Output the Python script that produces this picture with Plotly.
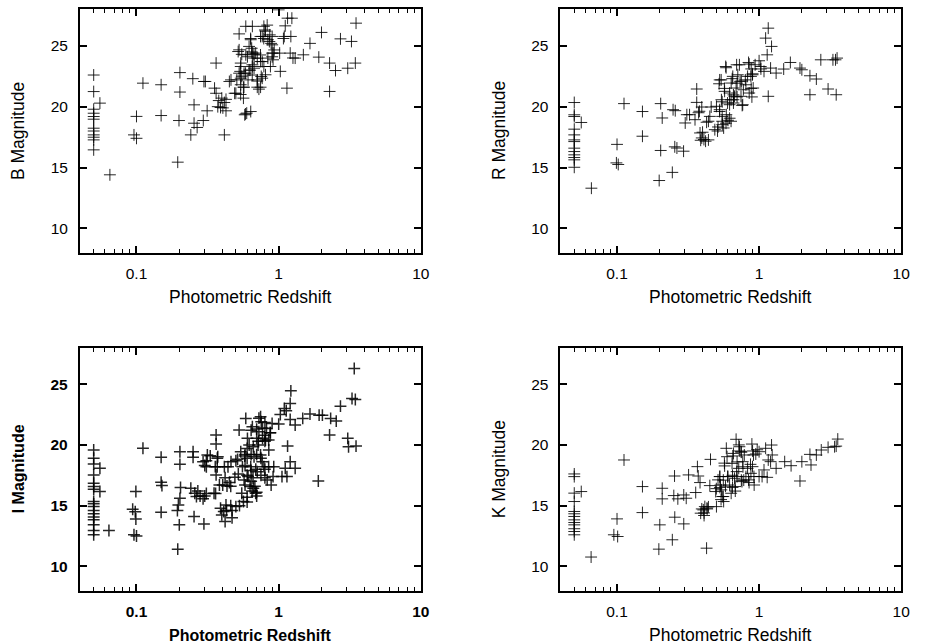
import plotly.graph_objects as go
import math

# ---------------- data ----------------
b_z = [0.05]*12 + [0.0553, 0.065,
       0.096, 0.1, 0.1, 0.111,
       0.149, 0.149,
       0.202, 0.202, 0.199, 0.195,
       0.249, 0.254, 0.254, 0.267, 0.241,
       0.298, 0.305, 0.314, 0.295,
       0.363, 0.354, 0.363, 0.379, 0.39, 0.398, 0.415, 0.426, 0.415, 0.373, 0.405, 0.426,
       0.45, 0.462, 0.49, 0.508, 0.519, 0.527, 0.541, 0.536, 0.541, 0.565, 0.565, 0.577, 0.596, 0.636, 0.585,
       0.587, 0.653, 0.587, 0.571, 0.609, 0.629, 0.636, 0.646, 0.656, 0.671, 0.653, 0.671, 0.689, 0.707, 0.726, 0.746,
       0.754, 0.746, 0.766, 0.787, 0.808, 0.83, 0.839, 0.866, 0.885, 0.899, 0.913, 0.839, 0.787, 0.875, 0.808, 0.923,
       0.527, 0.619, 0.647, 0.55, 0.603, 0.67, 0.707, 0.766, 0.745, 0.9, 0.93, 0.541, 0.619, 0.527, 0.55, 0.585,
       0.652, 0.766, 0.707, 0.541, 0.57, 0.707, 0.5, 0.54, 0.8, 0.635, 0.745, 0.785, 0.9, 0.86, 0.9, 0.652,
       1.0, 1.016, 1.027, 1.095, 1.112, 1.155, 1.238, 1.218, 1.143, 1.205, 1.306, 1.491, 1.66,
       2.0, 1.915, 2.28, 2.28, 2.51, 2.72, 3.06, 3.25, 3.5, 3.46, 1.26, 1.08]
b_mag = [22.6, 21.24, 19.79, 19.46, 19.19, 18.97, 18.23, 18.0, 17.68, 17.49, 17.27, 16.45] + [20.29, 14.4,
       17.68, 17.4, 19.2, 21.93,
       21.8, 19.27,
       22.8, 21.2, 18.86, 15.44,
       22.3, 20.15, 18.64, 18.29, 17.68,
       22.07, 22.07, 19.66, 18.86,
       23.58, 21.52, 21.1, 20.5, 19.93, 20.7, 20.34, 19.66, 17.68, 20.0, 19.9, 20.6,
       22.07, 22.2, 21.1, 22.2, 24.53, 25.98, 23.58, 22.9, 22.34, 21.6, 20.7, 19.33, 19.47, 19.6, 19.4,
       26.6, 26.6, 24.26, 22.75, 22.2, 23.0, 25.5, 24.8, 24.4, 23.99, 23.44, 23.16, 24.4, 22.2, 21.44, 21.6,
       22.48, 23.71, 25.77, 26.6, 26.2, 26.7, 25.5, 25.9, 25.2, 24.4, 23.85, 23.99, 23.3, 23.3, 22.62, 24.4,
       24.67, 24.95, 24.5, 24.3, 24.1, 24.3, 23.98, 23.7, 24.25, 24.1, 24.66, 23.3, 23.0, 22.75, 22.5, 22.75,
       22.6, 22.34, 22.1, 21.8, 21.6, 21.6, 21.1, 21.0, 26.3, 25.6, 25.77, 25.6, 25.77, 25.35, 25.08, 23.3,
       27.96, 24.4, 22.9, 25.77, 26.64, 27.27, 27.27, 25.77, 21.52, 24.4, 23.99, 24.26, 25.2,
       26.1, 24.07, 23.58, 21.25, 22.97, 25.57, 23.16, 25.36, 26.86, 23.58, 24.0, 25.6]

r_z = [0.05]*13 + [0.056, 0.066,
       0.099, 0.102, 0.1, 0.112,
       0.151, 0.151,
       0.203, 0.208, 0.203, 0.198,
       0.245, 0.248, 0.257, 0.255, 0.264,
       0.294, 0.302, 0.31, 0.324,
       0.364, 0.364, 0.354, 0.38, 0.384, 0.395, 0.388, 0.409, 0.42, 0.427, 0.395,
       0.45, 0.46, 0.488, 0.501, 0.514, 0.528, 0.523, 0.543, 0.528, 0.551, 0.563, 0.582, 0.572, 0.588, 0.604, 0.62,
       0.62, 0.636, 0.653, 0.66, 0.671, 0.689, 0.708, 0.727, 0.735, 0.746, 0.767, 0.775, 0.8, 0.808, 0.83, 0.843,
       0.852, 0.876, 0.899, 0.89, 0.909, 0.938,
       0.695, 0.852, 0.88, 0.9, 0.541, 0.647, 0.7, 0.75, 0.88, 0.57, 0.66, 0.7, 0.635, 0.55, 0.6, 0.66,
       0.76, 0.375, 0.527, 0.55, 0.62, 0.44, 0.55, 0.585, 0.635, 0.51, 0.4, 0.44, 0.586,
       1.0, 1.027, 1.112, 1.16, 1.14, 1.224, 1.16, 1.205, 1.083, 1.318, 1.49, 1.66, 1.94, 2.0,
       2.28, 2.53, 2.28, 2.72, 3.06, 3.31, 3.45, 3.54, 3.49, 1.03]
r_mag = [20.34, 19.33, 19.19, 18.15, 17.68, 17.27, 17.13, 16.59, 16.31, 16.04, 15.82, 15.63, 15.02] + [18.7, 13.3,
       15.38, 15.25, 16.9, 20.25,
       19.6, 17.57,
       20.25, 19.07, 16.4, 13.93,
       14.6, 19.75, 19.67, 16.7, 16.6,
       16.34, 18.66, 19.34, 19.34,
       21.45, 20.35, 18.93, 19.62, 17.84, 17.43, 17.24, 17.3, 17.16, 18.72, 19.97,
       19.2, 19.97, 18.11, 20.03, 18.33, 22.2, 21.88, 20.57, 19.75, 18.52, 18.25, 23.3, 21.26, 19.34, 18.88, 20.16,
       21.12, 21.94, 22.49, 20.57, 20.85, 21.53, 22.62, 23.44, 22.08, 20.85, 20.16, 21.39, 22.2, 21.8, 22.49, 23.63,
       21.12, 22.49, 22.62, 20.8, 21.53, 23.44,
       23.44, 23.5, 23.1, 22.7, 22.2, 22.3, 21.93, 22.1, 21.5, 21.5, 20.97, 20.8, 20.56, 20.4, 20.3, 20.3,
       20.1, 19.5, 19.6, 19.2, 19.05, 18.8, 18.8, 18.64, 18.8, 18.0, 17.9, 17.27, 23.2,
       23.77, 23.3, 25.63, 26.45, 24.26, 24.95, 20.85, 23.17, 22.9, 22.76, 23.09, 23.63, 23.17, 23.03,
       22.54, 22.27, 20.98, 23.85, 21.45, 23.85, 23.85, 23.99, 20.98, 23.1]

i_z = [0.05]*17 + [0.0553, 0.0553, 0.064,
       0.111, 0.099, 0.094, 0.098, 0.099, 0.096, 0.1,
       0.149, 0.149, 0.151, 0.149,
       0.202, 0.202, 0.204, 0.202, 0.197, 0.194, 0.2, 0.195,
       0.25, 0.25, 0.241, 0.257, 0.264, 0.254,
       0.294, 0.302, 0.315, 0.302, 0.294, 0.298,
       0.363, 0.363, 0.358, 0.351, 0.363, 0.373, 0.383, 0.39, 0.398, 0.411, 0.42, 0.426, 0.433, 0.415, 0.404,
       0.462, 0.492, 0.5, 0.514, 0.527, 0.541, 0.556, 0.571, 0.55, 0.565, 0.577, 0.587, 0.603, 0.62, 0.609, 0.629,
       0.636, 0.653, 0.663, 0.671, 0.663, 0.689, 0.707, 0.716, 0.726, 0.746, 0.754, 0.746, 0.766, 0.787, 0.808, 0.821,
       0.83, 0.852, 0.875, 0.885, 0.899, 0.913, 0.923,
       0.726, 0.8, 0.64, 0.7, 0.77, 0.8, 0.87, 0.7, 0.72, 0.77, 0.8, 0.85, 0.6, 0.64, 0.7, 0.58,
       0.6, 0.75, 0.33, 0.31, 0.37, 0.31, 0.37, 0.44, 0.5, 0.58, 0.64, 0.69, 0.8, 0.85, 0.52, 0.6,
       0.66, 0.75, 0.8, 0.42, 0.45, 0.46, 0.58, 0.64, 0.68, 0.65, 0.7, 0.7, 0.27, 0.28, 0.31, 0.36,
       0.6, 0.6, 0.46, 0.47, 0.53, 0.43, 0.47,
       1.0, 1.027, 1.055, 1.095, 1.112, 1.13, 1.155, 1.143, 1.205, 1.218, 1.205, 1.205, 1.306, 1.306, 1.476,
       1.66, 1.925, 2.03, 1.9, 2.28, 2.32, 2.54, 2.72, 3.06, 3.1, 3.28, 3.46, 3.4, 3.5]
i_mag = [19.58, 18.9, 18.43, 17.53, 16.85, 16.57, 16.35, 15.34, 15.15, 14.93, 14.6, 14.33, 14.06, 13.83, 13.42, 12.96, 12.6] + [18.08, 16.16, 12.96,
       19.72, 16.16, 14.7, 14.5, 13.9, 12.6, 12.5,
       18.98, 16.92, 16.65, 14.46,
       19.44, 18.4, 16.5, 15.6, 15.06, 14.6, 13.42, 11.42,
       19.44, 18.98, 16.43, 16.02, 15.75, 14.1,
       18.62, 18.3, 19.17, 15.8, 15.56, 13.5,
       20.81, 20.07, 18.21, 16.02, 17.53, 19.03, 16.7, 14.79, 14.24, 14.52, 13.69, 15.06, 16.62, 18.21, 16.7,
       18.62, 17.33, 14.92, 18.81, 21.22, 19.44, 18.21, 17.12, 16.02, 15.34, 19.08, 22.18, 20.54, 19.99, 17.39, 16.57,
       18.21, 21.5, 19.85, 19.03, 16.43, 16.02, 17.8, 19.99, 21.09, 22.32, 21.91, 19.17, 18.62, 18.21, 20.4, 21.36,
       17.12, 19.58, 21.0, 16.7, 21.77, 17.39, 18.21,
       22.2, 21.85, 21.2, 21.3, 21.4, 20.8, 21.0, 20.54, 20.3, 20.54, 20.3, 20.4, 19.7, 19.2, 19.2, 19.2,
       18.9, 18.9, 19.1, 18.7, 18.9, 18.2, 18.2, 18.2, 18.7, 18.3, 17.9, 18.0, 18.0, 18.2, 17.6, 17.5,
       17.3, 17.5, 17.3, 17.3, 16.9, 16.6, 16.7, 17.0, 16.6, 16.2, 16.1, 15.8, 16.2, 15.8, 16.0, 16.0,
       15.3, 15.7, 15.0, 14.6, 15.0, 14.6, 14.0,
       21.71, 22.5, 17.39, 23.0, 18.07, 22.81, 19.9, 17.39, 23.41, 24.45, 22.1, 18.62, 21.63, 18.07, 22.18,
       22.54, 22.45, 22.45, 17.03, 20.81, 22.18, 21.96, 23.19, 20.54, 19.85, 23.82, 23.74, 26.29, 19.9]

k_z = [0.05]*13 + [0.056, 0.0657,
       0.1, 0.095, 0.101, 0.112,
       0.151, 0.151,
       0.208, 0.208, 0.2, 0.197,
       0.254, 0.251, 0.268, 0.255, 0.245,
       0.319, 0.295, 0.307, 0.295,
       0.358, 0.368, 0.373, 0.384, 0.395, 0.388, 0.405, 0.415, 0.431, 0.41, 0.427,
       0.455, 0.45, 0.495, 0.501, 0.514, 0.528, 0.535, 0.543, 0.551, 0.563, 0.572, 0.588, 0.595, 0.604, 0.62, 0.636,
       0.645, 0.653, 0.671, 0.689, 0.68, 0.695, 0.719, 0.727, 0.746, 0.758, 0.767, 0.787, 0.808, 0.83, 0.843, 0.876,
       0.89, 0.899, 0.913, 0.923, 0.948,
       0.72, 0.73, 0.75, 0.9, 0.97, 0.66, 0.57, 0.7, 0.77, 0.87,
       0.53, 0.56, 0.6, 0.65, 0.7, 0.75, 0.78, 0.92, 1.05, 0.85, 0.53, 0.58, 0.65, 0.68, 0.5, 0.54,
       0.56, 0.43, 0.44, 0.41,
       1.0, 1.0, 1.083, 1.112, 1.16, 1.14, 1.224, 1.237, 1.205, 1.318, 1.514, 1.68, 1.94, 2.0,
       2.28, 2.32, 2.53, 2.74, 3.06, 3.4, 3.49, 3.58]
k_mag = [17.61, 17.39, 16.03, 15.34, 14.52, 14.33, 14.11, 13.83, 13.61, 13.42, 13.1, 12.87, 12.6] + [16.16, 10.77,
       13.91, 12.6, 12.46, 18.76,
       16.57, 14.43,
       16.43, 15.56, 13.42, 11.42,
       17.44, 15.83, 15.56, 14.05, 12.19,
       17.53, 15.88, 15.61, 13.5,
       16.08, 18.21, 17.44, 16.9, 14.73, 14.38, 14.65, 14.92, 14.73, 14.19, 11.5,
       18.81, 16.65, 16.16, 14.92, 17.12, 17.39, 16.7, 16.3, 15.75, 15.34, 18.27, 19.72, 19.03, 17.39, 16.7, 16.02,
       18.48, 19.09, 17.25, 20.46, 16.57, 17.8, 18.07, 19.85, 19.44, 16.98, 18.62, 19.17, 17.39, 18.07, 17.12, 17.66,
       20.07, 18.21, 19.17, 16.7, 19.25,
       20.0, 19.5, 19.4, 19.5, 19.6, 19.3, 18.5, 18.6, 18.2, 18.4,
       17.4, 17.1, 17.4, 17.5, 17.4, 17.1, 17.1, 17.4, 17.4, 16.9, 16.5, 16.6, 16.5, 16.2, 16.4, 15.5,
       15.75, 14.8, 14.9, 14.4,
       19.44, 17.39, 17.94, 19.72, 18.76, 17.33, 19.99, 19.17, 18.62, 18.07, 18.62, 18.29, 17.03, 18.62,
       19.22, 18.35, 19.17, 19.58, 19.8, 19.85, 19.9, 20.48]

panel_names = ["B Magnitude", "R Magnitude", "I Magnitude", "K Magnitude"]
x_title = "Photometric Redshift"
y_tickvals = [10, 15, 20, 25]
x_tickvals = [0.1, 1, 10]
x_ticktext = ["0.1", "1", "10"]
x_minor = [0.04, 0.05, 0.06, 0.07, 0.08, 0.09, 0.2, 0.3, 0.4, 0.5, 0.6, 0.7, 0.8, 0.9,
           2, 3, 4, 5, 6, 7, 8, 9]

for a, b in [(b_z, b_mag), (r_z, r_mag), (i_z, i_mag), (k_z, k_mag)]:
    assert len(a) == len(b), (len(a), len(b))

# ---------------- figure ----------------
W, H = 925, 644
fig = go.Figure()

panels = [
    dict(x=b_z, y=b_mag, bold=False, xd=(80.7, 425), yd=(9.3, 252.7)),
    dict(x=r_z, y=r_mag, bold=False, xd=(566, 910), yd=(9.3, 252.7)),
    dict(x=i_z, y=i_mag, bold=True, xd=(80.7, 425), yd=(347.7, 590.7)),
    dict(x=k_z, y=k_mag, bold=False, xd=(566, 910), yd=(347.7, 590.7)),
]

font_family = "Liberation Sans, Arial, Helvetica, sans-serif"
layout = dict(width=W, height=H, margin=dict(l=0, r=0, t=0, b=0),
              paper_bgcolor="white", plot_bgcolor="white", showlegend=False,
              annotations=[])

for k, p in enumerate(panels):
    n = k + 1
    xa = "x" if n == 1 else f"x{n}"
    ya = "y" if n == 1 else f"y{n}"
    weight = "bold" if p["bold"] else "normal"
    lw = 2.2 if p["bold"] else 1.8
    fig.add_trace(go.Scatter(
        x=p["x"], y=p["y"], mode="markers", xaxis=xa, yaxis=ya,
        marker=dict(symbol="cross-thin", size=8.5,
                    line=dict(color="rgba(0,0,0,0.85)", width=1.5 if p["bold"] else 1.0)),
        hoverinfo="skip"))
    xd = [p["xd"][0] / W, p["xd"][1] / W]
    yd = [1 - p["yd"][1] / H, 1 - p["yd"][0] / H]
    tickfont = dict(family=font_family, size=15.5, color="black", weight=weight)
    layout["xaxis" if n == 1 else f"xaxis{n}"] = dict(
        type="log", range=[math.log10(0.04), 1], domain=xd, anchor=ya,
        tickmode="array", tickvals=x_tickvals, ticktext=x_ticktext,
        ticks="inside", ticklen=7, tickwidth=1.5, tickcolor="black",
        showline=True, linecolor="black", linewidth=lw, mirror="ticks",
        showgrid=False, zeroline=False, tickfont=tickfont, ticklabelstandoff=6,
        minor=dict(tickmode="array", tickvals=x_minor, ticks="inside", ticklen=4,
                   tickwidth=1.2, tickcolor="black", showgrid=False))
    layout["yaxis" if n == 1 else f"yaxis{n}"] = dict(
        range=[8, 28], domain=yd, anchor=xa,
        tickmode="array", tickvals=y_tickvals,
        ticks="inside", ticklen=7, tickwidth=1.5, tickcolor="black",
        showline=True, linecolor="black", linewidth=lw, mirror="ticks",
        showgrid=False, zeroline=False, tickfont=tickfont, ticklabelstandoff=7)
    titlefont = dict(family=font_family, size=16 if p["bold"] else 17.5, color="black", weight=weight)
    cx = (p["xd"][0] + p["xd"][1]) / 2
    cy = (p["yd"][0] + p["yd"][1]) / 2
    ytx = 18.3 if k % 2 == 0 else 504
    xty = 296.7 if k < 2 else 635
    layout["annotations"].append(dict(
        text=panel_names[k], x=ytx / W, y=1 - cy / H, xref="paper", yref="paper",
        textangle=-90, showarrow=False, xanchor="center", yanchor="middle", font=titlefont))
    layout["annotations"].append(dict(
        text=x_title, x=cx / W, y=1 - xty / H, xref="paper", yref="paper",
        showarrow=False, xanchor="center", yanchor="middle", font=titlefont))

fig.update_layout(**layout)
fig.write_html("out.html")
